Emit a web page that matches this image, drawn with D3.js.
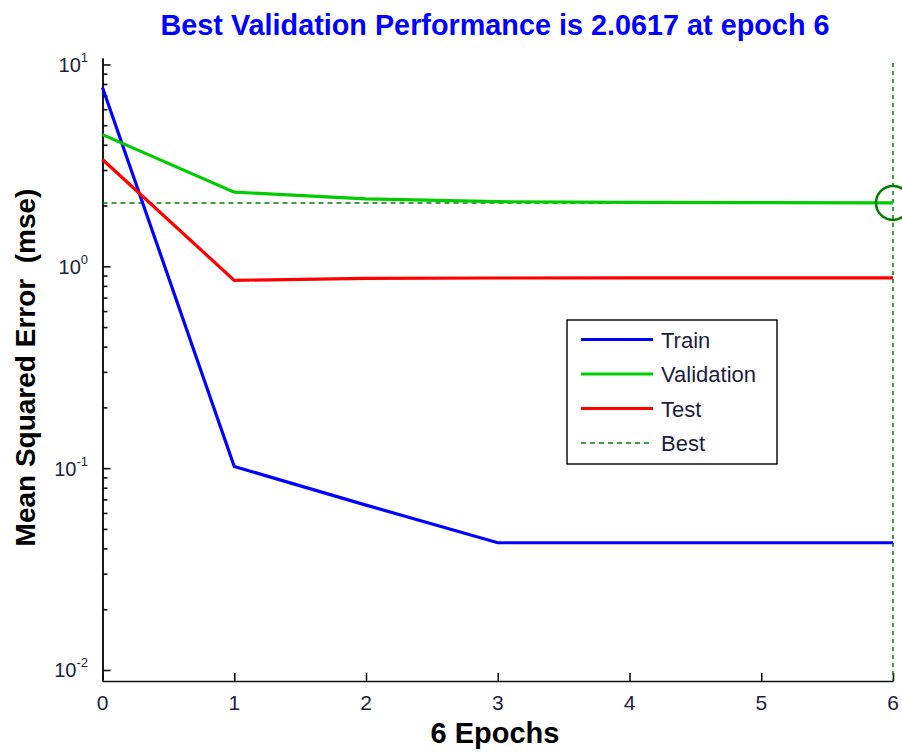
<!DOCTYPE html>
<html>
<head>
<meta charset="utf-8">
<script src="https://cdn.jsdelivr.net/npm/d3@7"></script>
<style>
  body { margin: 0; background: #fff; }
  svg { display: block; font-family: "Liberation Sans", Arial, sans-serif; }
</style>
</head>
<body>
<script>
//================= data ==================
var epochs = [0, 1, 2, 3, 4, 5, 6]
var train = [7.69, 0.102, 0.0656, 0.0427, 0.0427, 0.0427, 0.0427]
var validation = [4.49, 2.33, 2.16, 2.09, 2.075, 2.066, 2.0617]
var test = [3.38, 0.852, 0.872, 0.875, 0.876, 0.876, 0.876]
var bestEpoch = 6
var bestValue = 2.0617
var xTicks = [0, 1, 2, 3, 4, 5, 6]
var yMajor = [0.01, 0.1, 1, 10]
var yExp = ["-2", "-1", "0", "1"]
var legendNames = ["Train", "Validation", "Test", "Best"]
//=========================================

var W = 902, H = 752
var blue = "#0000ff", green = "#00cc00", red = "#ff0000", dark = "#007f00"
var labelColor = "#1e1e3c"

var svg = d3.select("body").append("svg")
            .attr("width", W)
            .attr("height", H)

var x = d3.scaleLinear().domain([0, 6]).range([102.5, 893])
// axis runs a little past the decades, like the matlab figure
var y = d3.scaleLog().domain([Math.pow(10, -2.0545), Math.pow(10, 1.032)]).range([681, 58])

var yMinor = []
for (var d = 0; d < yMajor.length - 1; d++){
  for (var k = 2; k < 10; k++){
    yMinor.push(yMajor[d] * k)
  }
}

// axes, ticks pointing inward
svg.append("g")
   .attr("transform", "translate(" + x(0) + ",0)")
   .call(d3.axisLeft(y).tickValues(yMinor).tickSize(-5).tickSizeOuter(0).tickFormat(""))
svg.append("g")
   .attr("transform", "translate(" + x(0) + ",0)")
   .call(d3.axisLeft(y).tickValues(yMajor).tickSize(-8).tickSizeOuter(0).tickFormat(""))
svg.append("g")
   .attr("transform", "translate(0," + y.range()[0] + ")")
   .call(d3.axisBottom(x).tickValues(xTicks).tickSize(-8).tickSizeOuter(0).tickFormat(""))
svg.selectAll(".domain, .tick line").attr("stroke", "#111").attr("stroke-width", 1.6)

// y tick labels 10^n
yMajor.forEach(function(v, i){
  var t = svg.append("text")
             .attr("x", 88)
             .attr("y", y(v) + 7.5)
             .attr("text-anchor", "end")
             .attr("fill", labelColor)
             .style("font-size", "20px")
  t.append("tspan").text("10")
  t.append("tspan").attr("dy", -10).style("font-size", "13px").text(yExp[i])
})

svg.selectAll(".xlab")
   .data(xTicks)
   .enter().append("text")
   .attr("x", function(d){ return x(d) })
   .attr("y", 710)
   .attr("text-anchor", "middle")
   .attr("fill", labelColor)
   .style("font-size", "21px")
   .text(function(d){ return d })

// best lines
svg.append("line")
   .attr("x1", x(0)).attr("x2", x(6))
   .attr("y1", y(bestValue)).attr("y2", y(bestValue))
   .attr("stroke", dark).attr("stroke-width", 1.5).attr("stroke-dasharray", "5,4")
svg.append("line")
   .attr("x1", x(bestEpoch)).attr("x2", x(bestEpoch))
   .attr("y1", y.range()[1] + 5).attr("y2", y.range()[0])
   .attr("stroke", dark).attr("stroke-width", 1.5).attr("stroke-dasharray", "4,4")

var line = d3.line()
             .x(function(d, i){ return x(epochs[i]) })
             .y(function(d){ return y(d) })

var series = [[train, blue], [validation, green], [test, red]]
series.forEach(function(s){
  svg.append("path")
     .datum(s[0])
     .attr("d", line)
     .attr("fill", "none")
     .attr("stroke", s[1])
     .attr("stroke-width", 3.2)
})

svg.append("circle")
   .attr("cx", x(bestEpoch))
   .attr("cy", y(bestValue))
   .attr("r", 17)
   .attr("fill", "none")
   .attr("stroke", dark)
   .attr("stroke-width", 2.5)

// legend
var lg = svg.append("g").attr("transform", "translate(567,320)")
lg.append("rect")
  .attr("width", 210).attr("height", 144)
  .attr("fill", "#fff").attr("stroke", "#111").attr("stroke-width", 1.5)
var legendColors = [blue, green, red, dark]
legendNames.forEach(function(name, i){
  var cy = 19.5 + i * 34.5
  lg.append("line")
    .attr("x1", 14).attr("x2", 86)
    .attr("y1", cy).attr("y2", cy)
    .attr("stroke", legendColors[i])
    .attr("stroke-width", i == 3 ? 1.5 : 3.2)
    .attr("stroke-dasharray", i == 3 ? "5,4" : null)
  lg.append("text")
    .attr("x", 94).attr("y", cy + 8)
    .attr("fill", labelColor)
    .style("font-size", "22px")
    .text(name)
})

// titles
svg.append("text")
   .attr("x", 495).attr("y", 35)
   .attr("text-anchor", "middle")
   .attr("fill", blue)
   .style("font-size", "28.8px").style("font-weight", "bold")
   .text("Best Validation Performance is " + bestValue + " at epoch " + bestEpoch)

svg.append("text")
   .attr("x", 495).attr("y", 743)
   .attr("text-anchor", "middle")
   .attr("fill", "#000")
   .style("font-size", "29px").style("font-weight", "bold")
   .text(epochs.length - 1 + " Epochs")

svg.append("text")
   .attr("transform", "translate(35,367.5) rotate(-90)")
   .attr("text-anchor", "middle")
   .attr("fill", "#000")
   .style("font-size", "28px").style("font-weight", "bold")
   .style("white-space", "pre")
   .text("Mean Squared Error  (mse)")
</script>
</body>
</html>
